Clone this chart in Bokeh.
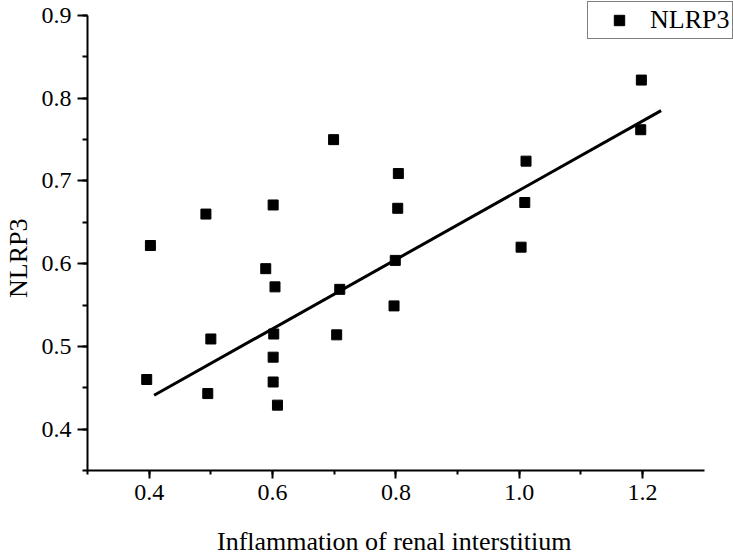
from bokeh.plotting import figure
from bokeh.models import Range1d, SingleIntervalTicker, PrintfTickFormatter, Legend, LegendItem
from bokeh.embed import file_html
from bokeh.resources import INLINE

# data
inflammation = [0.699, 0.804, 0.803, 0.601, 0.492, 0.402, 0.589, 0.604, 0.709, 0.799, 0.797, 0.602,
                0.500, 0.704, 0.601, 0.396, 0.495, 0.601, 0.608, 1.011, 1.009, 1.003, 1.197, 1.198]
nlrp3 = [0.750, 0.709, 0.667, 0.671, 0.660, 0.622, 0.594, 0.572, 0.569, 0.604, 0.549, 0.515,
         0.509, 0.514, 0.487, 0.460, 0.443, 0.457, 0.429, 0.724, 0.674, 0.620, 0.762, 0.822]
fit_x = [0.408, 1.23]
fit_y = [0.441, 0.785]
x_axis_bounds = (0.3, 1.3)
y_axis_bounds = (0.35, 0.9)
x_title = "Inflammation of renal interstitium"
y_title = "NLRP3"

FONT = "Liberation Serif"
NBSP = "\u00a0"

p = figure(width=733, height=558, output_backend="svg", toolbar_location=None,
           x_range=Range1d(0.3, 1.3474), y_range=Range1d(0.35, 0.9182),
           min_border_left=87, min_border_right=0, min_border_top=0, min_border_bottom=87)
p.xgrid.visible = False
p.ygrid.visible = False
p.outline_line_color = None
p.background_fill_color = "white"
p.border_fill_color = "white"

r = p.scatter(inflammation, nlrp3, marker="square", size=10, color="black")
p.line(fit_x, fit_y, line_width=3, color="black")

p.xaxis.ticker = SingleIntervalTicker(interval=0.2, num_minor_ticks=2)
p.yaxis.ticker = SingleIntervalTicker(interval=0.1, num_minor_ticks=2)
p.xaxis.formatter = PrintfTickFormatter(format="%.1f")
p.yaxis.formatter = PrintfTickFormatter(format="%.1f")
p.xaxis.bounds = x_axis_bounds
p.yaxis.bounds = y_axis_bounds

# trailing non-breaking spaces keep the titles centred on the drawn axis, not on the wider frame
p.xaxis.axis_label = x_title + NBSP * 5
p.yaxis.axis_label = y_title + NBSP * 7

for ax in (p.xaxis[0], p.yaxis[0]):
    ax.axis_line_width = 2
    ax.axis_line_color = "black"
    ax.major_tick_line_width = 2
    ax.minor_tick_line_width = 2
    ax.major_tick_line_color = "black"
    ax.minor_tick_line_color = "black"
    ax.major_tick_in = 0
    ax.minor_tick_in = 0
    ax.major_label_text_font = FONT
    ax.major_label_text_font_size = "24px"
    ax.major_label_text_color = "black"
    ax.axis_label_text_font = FONT
    ax.axis_label_text_font_size = "26px"
    ax.axis_label_text_font_style = "normal"
    ax.axis_label_text_color = "black"

p.xaxis.major_tick_out = 8
p.xaxis.minor_tick_out = 4
p.yaxis.major_tick_out = 10
p.yaxis.minor_tick_out = 5
p.xaxis.major_label_standoff = 6
p.yaxis.major_label_standoff = 6
p.xaxis.axis_label_standoff = 24
p.yaxis.axis_label_standoff = 6

legend = Legend(items=[LegendItem(label="NLRP3", renderers=[r])], location=(500, 431),
                border_line_color="black", border_line_width=1, padding=3, margin=0,
                glyph_width=56, glyph_height=26, label_standoff=3,
                label_text_font=FONT, label_text_font_size="26px", label_text_color="black",
                background_fill_alpha=1)
p.add_layout(legend)

open("out.html", "w").write(file_html(p, INLINE))
